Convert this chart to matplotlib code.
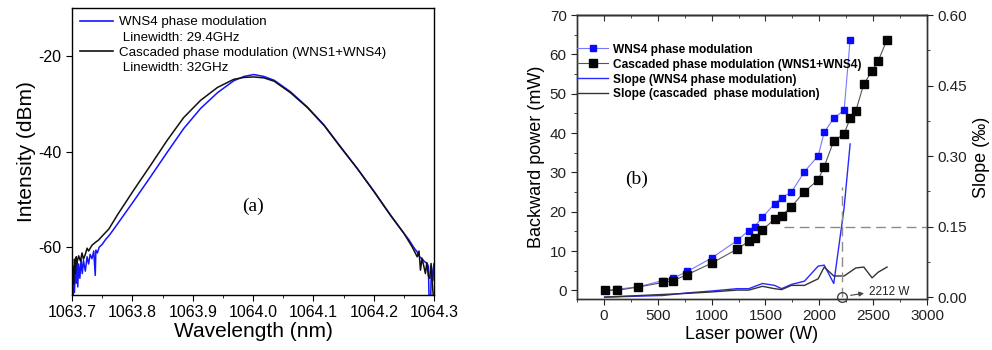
"""Spectra and backward power vs laser power, two panels."""

import matplotlib
matplotlib.use("Agg")
import matplotlib.pyplot as plt
from matplotlib.lines import Line2D
from matplotlib.ticker import MultipleLocator

# ---- panel (a): spectra -------------------------------------------------
wns4_wl = [1063.7005, 1063.7015, 1063.7027, 1063.704, 1063.7055, 1063.707, 1063.708,
           1063.7095, 1063.711, 1063.713, 1063.715, 1063.717, 1063.719, 1063.722,
           1063.725, 1063.7275, 1063.730, 1063.733, 1063.736, 1063.7385, 1063.7395,
           1063.742, 1063.745, 1063.750, 1063.755, 1063.763, 1063.775, 1063.802,
           1063.830, 1063.858, 1063.885, 1063.913, 1063.941, 1063.968, 1063.985,
           1064.001, 1064.018, 1064.035, 1064.062, 1064.090, 1064.118, 1064.145,
           1064.173, 1064.201, 1064.228, 1064.250, 1064.258, 1064.266, 1064.272,
           1064.276, 1064.280, 1064.284, 1064.288, 1064.2905, 1064.2915, 1064.2945,
           1064.2955, 1064.298, 1064.2995]
wns4_db = [-63.5, -70.0, -64.0, -69.5, -64.5, -67.5, -63.0,
           -68.3, -63.5, -66.5, -62.5, -65.5, -62.8, -65.0,
           -62.0, -63.5, -61.5, -62.4, -60.8, -65.9, -60.6,
           -61.2, -60.0, -59.4, -58.5, -57.3, -55.2, -50.4,
           -45.3, -40.1, -35.2, -31.0, -27.7, -25.2, -24.3,
           -23.9, -24.3, -25.1, -27.5, -30.7, -34.5, -39.0,
           -43.6, -48.4, -53.3, -57.1, -58.4, -60.0, -61.0,
           -62.0, -62.4, -63.0, -63.4, -63.9, -70.0, -70.0,
           -64.0, -67.0, -63.5]

casc_wl = [1063.7005, 1063.7015, 1063.7027, 1063.704, 1063.7055, 1063.707, 1063.708,
           1063.711, 1063.714, 1063.7166, 1063.719, 1063.722, 1063.725, 1063.7275,
           1063.733, 1063.7386, 1063.744, 1063.752, 1063.761, 1063.775, 1063.802,
           1063.830, 1063.858, 1063.885, 1063.913, 1063.941, 1063.968, 1063.985,
           1064.001, 1064.018, 1064.035, 1064.062, 1064.090, 1064.118, 1064.145,
           1064.173, 1064.201, 1064.228, 1064.250, 1064.2635, 1064.268, 1064.272,
           1064.275, 1064.2774, 1064.280, 1064.283, 1064.2856, 1064.288, 1064.2905,
           1064.2928, 1064.295, 1064.297, 1064.2985]
casc_db = [-70.0, -64.0, -67.6, -62.5, -65.5, -62.0, -63.4,
           -61.8, -62.9, -61.2, -62.5, -61.5, -60.2, -60.8,
           -59.6, -59.0, -58.5, -57.4, -56.2, -53.3, -48.1,
           -42.9, -37.6, -32.9, -29.3, -26.6, -24.9, -24.5,
           -24.4, -24.6, -25.3, -27.7, -30.8, -34.6, -39.1,
           -43.6, -48.5, -53.4, -57.1, -59.9, -61.0, -62.0,
           -60.8, -64.8, -62.3, -64.0, -65.5, -63.2, -66.0,
           -66.5, -63.4, -67.5, -70.0]

# ---- panel (b): backward power and slope --------------------------------
wns4_power = [6, 124, 319, 547, 643, 773, 999, 1237, 1345, 1398, 1472, 1584,
              1649, 1741, 1862, 1989, 2045, 2134, 2230, 2286]
wns4_back = [0.0, 0.3, 0.9, 2.5, 3.1, 4.8, 8.2, 12.7, 15.2, 16.2, 18.6, 22.0,
             23.6, 25.0, 30.2, 34.2, 40.2, 43.8, 45.8, 63.8]

casc_power = [6, 124, 319, 547, 643, 773, 999, 1237, 1345, 1398, 1472, 1584,
              1649, 1741, 1862, 1989, 2045, 2134, 2230, 2286, 2338, 2413, 2490,
              2546, 2629]
casc_back = [0.0, 0.0, 0.85, 2.0, 2.5, 4.0, 6.9, 10.5, 12.5, 13.3, 15.4, 18.1,
             19.0, 21.3, 25.1, 28.1, 31.5, 38.0, 39.8, 43.8, 45.6, 52.5, 55.8,
             58.3, 63.8]

wns4_slope_power = [6, 547, 773, 999, 1237, 1345, 1472, 1584, 1649, 1741, 1862,
                    1989, 2045, 2134, 2230, 2286]
wns4_slope = [0.0, 0.0035, 0.009, 0.013, 0.018, 0.018, 0.029, 0.025, 0.018, 0.027,
              0.034, 0.066, 0.068, 0.029, 0.19, 0.326]

casc_slope_power = [6, 773, 999, 1237, 1345, 1472, 1584, 1649, 1741, 1862, 1989,
                    2045, 2134, 2230, 2338, 2413, 2490, 2546, 2629]
casc_slope = [0.0, 0.008, 0.011, 0.015, 0.015, 0.023, 0.018, 0.016, 0.025, 0.025,
              0.039, 0.064, 0.045, 0.045, 0.062, 0.064, 0.041, 0.053, 0.064]

threshold_power = 2212
threshold_slope = 0.15

BLUE = "#1414ff"
SANS = "Liberation Sans"
SERIF = "Liberation Serif"

plt.rcParams["font.family"] = [SANS, "DejaVu Sans"]
plt.rcParams["axes.linewidth"] = 1.0
plt.rcParams["axes.unicode_minus"] = False

fig = plt.figure(figsize=(9.92, 3.5), dpi=100)

# (a)
ax_a = fig.add_axes([0.0726, 0.157, 0.365, 0.82])
ax_a.plot(wns4_wl, wns4_db, color=BLUE, lw=1.1, label="WNS4 phase modulation")
ax_a.plot(casc_wl, casc_db, color="#111111", lw=1.1,
          label="Cascaded phase modulation (WNS1+WNS4)")
ax_a.set_xlim(1063.7, 1064.3)
ax_a.set_ylim(-70, -10)
ax_a.set_yticks([-60, -40, -20])
ax_a.set_xticks([1063.7, 1063.8, 1063.9, 1064.0, 1064.1, 1064.2, 1064.3])
ax_a.set_xticklabels(["1063.7", "1063.8", "1063.9", "1064.0", "1064.1", "1064.2", "1064.3"])
ax_a.xaxis.set_minor_locator(MultipleLocator(0.05))
ax_a.tick_params(which="both", direction="out", labelsize=11.5)
ax_a.tick_params(which="major", length=4)
ax_a.tick_params(which="minor", length=2.5)
ax_a.set_xlabel("Wavelength (nm)", fontsize=15, labelpad=1)
ax_a.set_ylabel("Intensity (dBm)", fontsize=15, labelpad=2)
ax_a.text(1064.0, -51.5, "(a)", family=SERIF, fontsize=14, ha="center", va="center")

blank = Line2D([], [], color="none")
handles_a = [
    Line2D([], [], color=BLUE, lw=1.2), blank,
    Line2D([], [], color="#111111", lw=1.2), blank,
]
labels_a = ["WNS4 phase modulation", " Linewidth: 29.4GHz",
            "Cascaded phase modulation (WNS1+WNS4)", " Linewidth: 32GHz"]
ax_a.legend(handles_a, labels_a, loc="upper left", frameon=False, fontsize=9.6,
            handlelength=2.5, handletextpad=0.4, labelspacing=0.22,
            borderaxespad=0.2, bbox_to_anchor=(0.0, 1.0))

# (b)
ax_b = fig.add_axes([0.5817, 0.1457, 0.3528, 0.811])
ax_s = ax_b.twinx()

blue_pts, = ax_b.plot(wns4_power, wns4_back, color="#7878ff", lw=0.8, marker="s",
                      ms=4.6, mfc="#0a0aff", mec="#0a0aff")
black_pts, = ax_b.plot(casc_power, casc_back, color="#555555", lw=0.8, marker="s",
                       ms=5.2, mfc="#050505", mec="#050505")
blue_slope, = ax_s.plot(wns4_slope_power, wns4_slope, color="#2a2aff", lw=1.0)
black_slope, = ax_s.plot(casc_slope_power, casc_slope, color="#333333", lw=1.0)

ax_s.plot([threshold_power, threshold_power], [0, 0.235], color="#8c8c8c",
          lw=1.0, ls=(0, (7, 4)))
ax_s.plot([1676, 3000], [threshold_slope, threshold_slope], color="#8c8c8c",
          lw=1.0, ls=(0, (7, 4)))
ax_s.plot([threshold_power], [0], marker="o", ms=7, mfc="none", mec="#444444",
          mew=1.0, clip_on=False)
ax_s.annotate("", xy=(2440, 0.009), xytext=(2265, 0.003),
              arrowprops=dict(arrowstyle="-|>", color="#444444", lw=0.8,
                              mutation_scale=7))
ax_s.text(2460, 0.011, f"{threshold_power} W", fontsize=8.5, va="center",
          color="#222222")

ax_b.set_xlim(-250, 3000)
ax_b.set_ylim(-2.2, 70)
ax_s.set_ylim(-0.004, 0.6)
ax_b.set_xticks([0, 500, 1000, 1500, 2000, 2500, 3000])
ax_b.set_yticks([0, 10, 20, 30, 40, 50, 60, 70])
ax_s.set_yticks([0.0, 0.15, 0.30, 0.45, 0.60])
ax_s.set_yticklabels(["0.00", "0.15", "0.30", "0.45", "0.60"])
ax_b.xaxis.set_minor_locator(MultipleLocator(250))
ax_b.yaxis.set_minor_locator(MultipleLocator(5))
ax_s.yaxis.set_minor_locator(MultipleLocator(0.075))
for a in (ax_b, ax_s):
    a.tick_params(which="both", direction="out", labelsize=11, colors="#222222")
    a.tick_params(which="major", length=4)
    a.tick_params(which="minor", length=2)
    for sp in a.spines.values():
        sp.set_color("#333333")

top = ax_b.secondary_xaxis("top")
top.set_xticks([0, 500, 1000, 1500, 2000, 2500, 3000])
top.xaxis.set_minor_locator(MultipleLocator(250))
top.tick_params(which="both", direction="in", labeltop=False, colors="#333333")
top.tick_params(which="major", length=4)
top.tick_params(which="minor", length=2)

ax_b.set_xlabel("Laser power (W)", fontsize=13, labelpad=2)
ax_b.set_ylabel("Backward power (mW)", fontsize=13, labelpad=3)
ax_s.set_ylabel("Slope (‰)", fontsize=13, labelpad=4)
ax_b.text(300, 28.3, "(b)", family=SERIF, fontsize=14, ha="center", va="center")

ax_s.legend([blue_pts, black_pts, blue_slope, black_slope],
            ["WNS4 phase modulation", "Cascaded phase modulation (WNS1+WNS4)",
             "Slope (WNS4 phase modulation)", "Slope (cascaded  phase modulation)"],
            loc="upper left", bbox_to_anchor=(0.0, 0.9), frameon=False,
            prop={"family": SANS, "weight": "bold", "size": 8.6},
            handlelength=2.6, handletextpad=0.45, labelspacing=0.25,
            borderaxespad=0.0, borderpad=0.0)

fig.savefig("out.png", dpi=100)
